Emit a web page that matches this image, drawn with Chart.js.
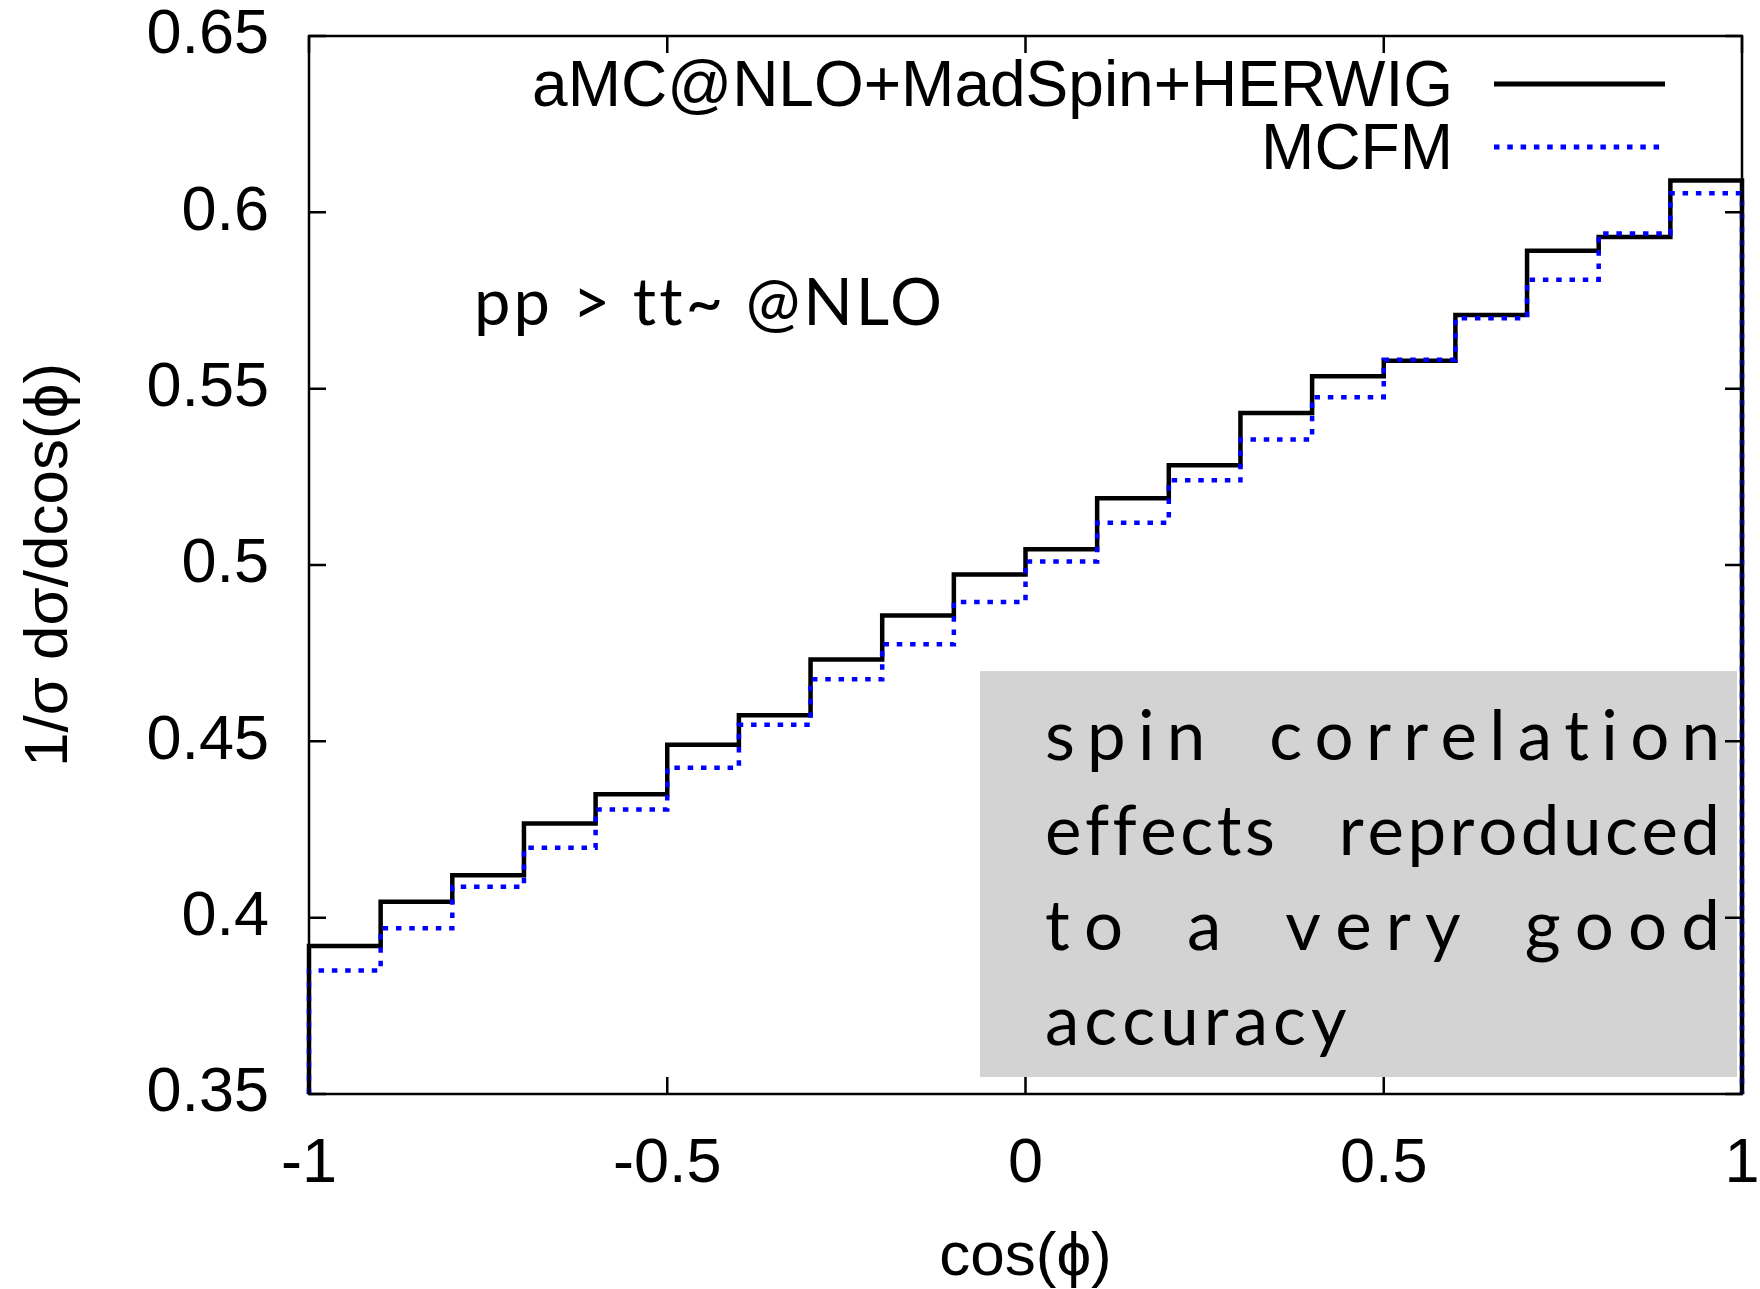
<!DOCTYPE html>
<html>
<head>
<meta charset="utf-8">
<script src="https://cdn.jsdelivr.net/npm/chart.js@4.4.1/dist/chart.umd.min.js"></script>
<style>
  html, body { margin: 0; padding: 0; background: #fff; }
</style>
</head>
<body>
<canvas id="spin" width="1760" height="1289"></canvas>
<script>
// bin edges of the cos(phi) histogram and the normalised values per bin
var binEdges = [-1, -0.9, -0.8, -0.7, -0.6, -0.5, -0.4, -0.3, -0.2, -0.1, 0,
                0.1, 0.2, 0.3, 0.4, 0.5, 0.6, 0.7, 0.8, 0.9, 1];
var amcValues = [0.392, 0.4045, 0.412, 0.4267, 0.435, 0.449, 0.4574, 0.4732, 0.4857, 0.4973,
                 0.5045, 0.5189, 0.5283, 0.5431, 0.5535, 0.5579, 0.5709, 0.5891, 0.593, 0.609];
var mcfmValues = [0.385, 0.397, 0.4088, 0.4198, 0.4307, 0.4425, 0.4547, 0.4676, 0.4775, 0.4895,
                  0.501, 0.512, 0.524, 0.5356, 0.5476, 0.5582, 0.570, 0.5809, 0.594, 0.6054];
var seriesNames = ["aMC@NLO+MadSpin+HERWIG", "MCFM"];

var xTicks = [-1, -0.5, 0, 0.5, 1];
var xTickLabels = ["-1", "-0.5", "0", "0.5", "1"];
var yTicks = [0.35, 0.4, 0.45, 0.5, 0.55, 0.6, 0.65];
var yTickLabels = ["0.35", "0.4", "0.45", "0.5", "0.55", "0.6", "0.65"];

var processLabel = "pp > tt~ @NLO";
var noteLines = ["spin correlation", "effects reproduced", "to a very good", "accuracy"];

var helv = "'Liberation Sans', Arial, sans-serif"
  , gill = "Lato, 'Open Sans', sans-serif";

// step outline: up from the floor at the first edge, down again at the last
function histPoints(values) {
  var base = yTicks[0]
    , last = binEdges.length - 1
    , pts = [{ x: binEdges[0], y: base }];
  for (var i = 0; i < values.length; i++) {
    pts.push({ x: binEdges[i], y: values[i] });
  }
  pts.push({ x: binEdges[last], y: values[values.length - 1] });
  pts.push({ x: binEdges[last], y: base });
  return pts;
}

// draw one word with extra space between its letters
function spacedWord(c, word, x, y, ls) {
  for (var k = 0; k < word.length; k++) {
    c.fillText(word[k], x, y);
    x += c.measureText(word[k]).width + ls;
  }
}
function wordWidth(c, word) {
  var w = 0;
  for (var k = 0; k < word.length; k++) w += c.measureText(word[k]).width;
  return w;
}

var decor = {
  id: 'decor',
  beforeDatasetsDraw: function (chart) {
    var c = chart.ctx, xs = chart.scales.x, ys = chart.scales.y;
    c.save();
    // grey note box
    var bx0 = xs.getPixelForValue(-0.0635), bx1 = xs.getPixelForValue(0.993)
      , by0 = ys.getPixelForValue(0.4699), by1 = ys.getPixelForValue(0.3548);
    c.fillStyle = '#d3d3d3';
    c.fillRect(bx0, by0, bx1 - bx0, by1 - by0);

    // justified note text: fixed word gap, letters take up the rest
    c.fillStyle = '#000';
    c.font = '69px ' + gill;
    c.textBaseline = 'alphabetic';
    c.textAlign = 'left';
    var tx0 = xs.getPixelForValue(0.0272), tx1 = xs.getPixelForValue(0.9693)
      , base0 = ys.getPixelForValue(0.4447), step = 95, wordGap = 64;
    noteLines.forEach(function (line, li) {
      var words = line.split(' ')
        , y = base0 + li * step
        , natural = 0, inner = 0, ls = 5;
      words.forEach(function (w) { natural += wordWidth(c, w); inner += w.length - 1; });
      if (li < noteLines.length - 1 && words.length > 1) {
        ls = (tx1 - tx0 - natural - wordGap * (words.length - 1)) / inner;
      }
      var gap = words.length > 1
        ? (li < noteLines.length - 1 ? (tx1 - tx0 - natural - ls * inner) / (words.length - 1) : 22)
        : 0
        , x = tx0;
      words.forEach(function (w) {
        spacedWord(c, w, x, y, ls);
        x += wordWidth(c, w) + ls * (w.length - 1) + gap;
      });
    });

    // process label
    c.font = '65px ' + gill;
    c.letterSpacing = '3px';
    c.fillText(processLabel, xs.getPixelForValue(-0.7697), ys.getPixelForValue(0.568));
    c.restore();
  },
  afterDatasetsDraw: function (chart) {
    var c = chart.ctx, a = chart.chartArea
      , xs = chart.scales.x, ys = chart.scales.y, tl = 17;
    c.save();
    c.strokeStyle = '#000';
    c.lineWidth = 2.5;
    c.setLineDash([]);
    c.strokeRect(a.left, a.top, a.right - a.left, a.bottom - a.top);
    c.beginPath();
    xTicks.forEach(function (v) {
      var px = xs.getPixelForValue(v);
      c.moveTo(px, a.bottom); c.lineTo(px, a.bottom - tl);
      c.moveTo(px, a.top);    c.lineTo(px, a.top + tl);
    });
    yTicks.forEach(function (v) {
      var py = ys.getPixelForValue(v);
      c.moveTo(a.left, py);  c.lineTo(a.left + tl, py);
      c.moveTo(a.right, py); c.lineTo(a.right - tl, py);
    });
    c.stroke();

    // key, top right inside the frame
    c.font = '64px ' + helv;
    c.textAlign = 'right';
    c.textBaseline = 'alphabetic';
    chart.data.datasets.forEach(function (ds, i) {
      var base = a.top + 70 + i * 63;
      c.fillStyle = '#000';
      c.fillText(ds.label, a.right - 289, base);
      c.beginPath();
      c.strokeStyle = ds.borderColor;
      c.lineWidth = 5;
      c.lineCap = 'butt';
      c.setLineDash(ds.borderDash || []);
      c.moveTo(a.right - 248, base - 22);
      c.lineTo(a.right - 77, base - 22);
      c.stroke();
    });
    c.restore();
  }
};

var chart = new Chart(document.getElementById('spin').getContext('2d'), {
  type: 'line',
  data: {
    datasets: [
      {
        label: seriesNames[0],
        data: histPoints(amcValues),
        borderColor: '#000000',
        borderWidth: 4.5,
        borderJoinStyle: 'miter',
        stepped: 'before',
        pointRadius: 0,
        fill: false,
        clip: false,
        order: 1
      },
      {
        label: seriesNames[1],
        data: histPoints(mcfmValues),
        borderColor: '#0000ff',
        borderWidth: 4.5,
        borderDash: [5.5, 7.8],
        borderCapStyle: 'butt',
        stepped: 'before',
        pointRadius: 0,
        fill: false,
        clip: false,
        order: 0
      }
    ]
  },
  options: {
    responsive: false,
    animation: false,
    events: [],
    layout: { padding: { top: 36, right: 18, left: 0, bottom: 0 } },
    plugins: { legend: { display: false }, tooltip: { enabled: false } },
    scales: {
      x: {
        type: 'linear', min: -1, max: 1,
        afterBuildTicks: function (s) { s.ticks = xTicks.map(function (v) { return { value: v }; }); },
        afterFit: function (s) { s.height = 195; s.paddingLeft = 0; s.paddingRight = 0; },
        grid: { display: false, drawTicks: false },
        border: { display: false },
        ticks: {
          padding: 39, color: '#000', maxRotation: 0, autoSkip: false,
          font: { family: helv, size: 63, lineHeight: 1 },
          callback: function (v, i) { return xTickLabels[i]; }
        },
        title: {
          display: true, text: 'cos(ϕ)', color: '#000',
          font: { family: helv, size: 62, lineHeight: 1 },
          padding: { top: 0, bottom: 0 }
        }
      },
      y: {
        type: 'linear', min: yTicks[0], max: yTicks[yTicks.length - 1],
        afterBuildTicks: function (s) { s.ticks = yTicks.map(function (v) { return { value: v }; }); },
        afterFit: function (s) { s.width = 309; s.paddingTop = 0; s.paddingBottom = 0; },
        grid: { display: false, drawTicks: false },
        border: { display: false },
        ticks: {
          padding: 40, color: '#000', autoSkip: false,
          font: { family: helv, size: 63, lineHeight: 1 },
          callback: function (v, i) { return yTickLabels[i]; }
        },
        title: {
          display: true, text: '1/σ dσ/dcos(ϕ)', color: '#000',
          font: { family: helv, size: 62, lineHeight: 1 },
          padding: { top: 19, bottom: 0 }
        }
      }
    }
  },
  plugins: [decor]
});
</script>
</body>
</html>
